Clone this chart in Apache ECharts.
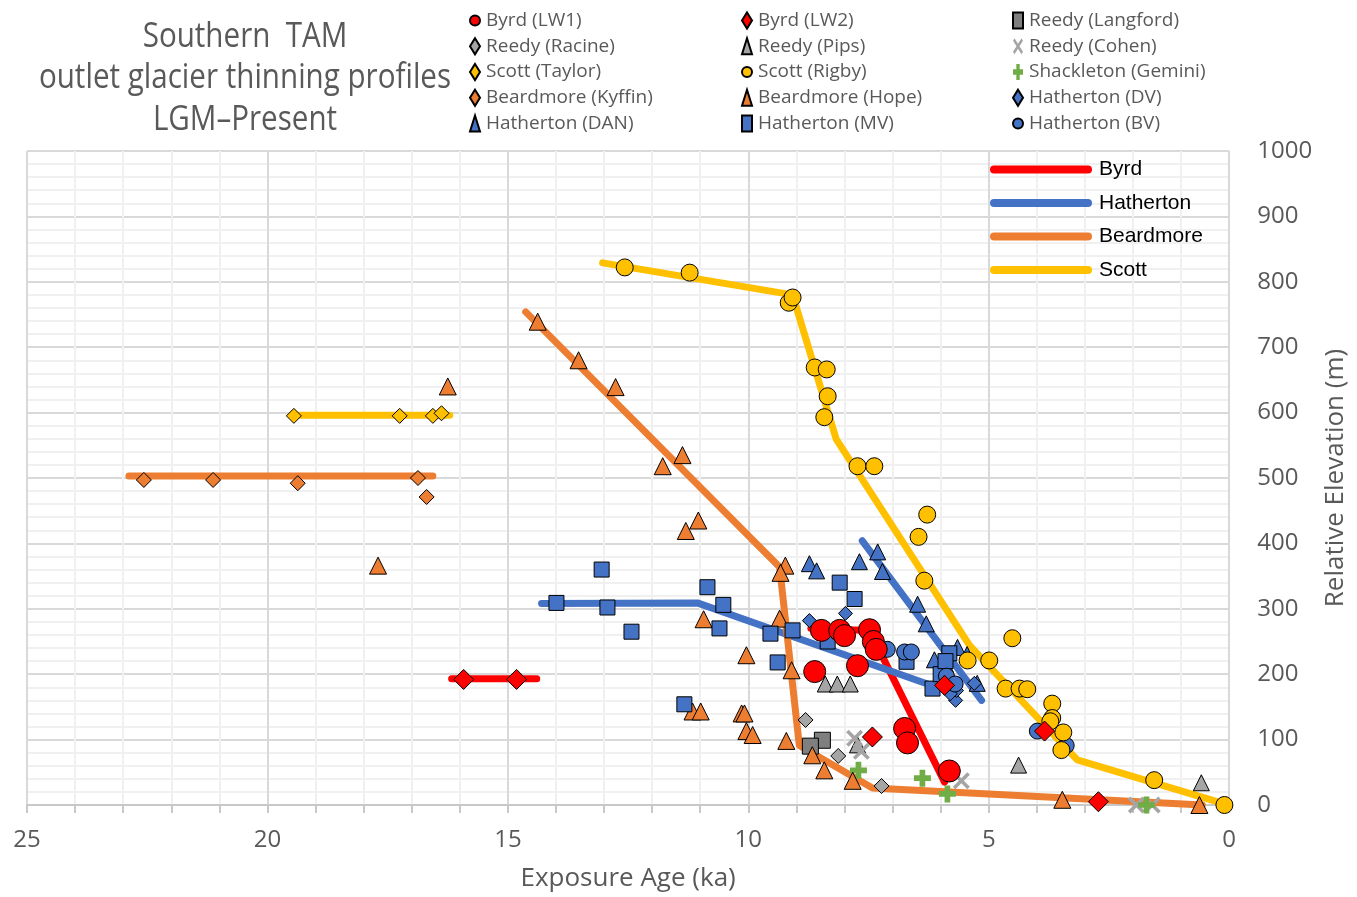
<!DOCTYPE html>
<html>
<head>
<meta charset="utf-8">
<script src="https://cdn.jsdelivr.net/npm/echarts@6/dist/echarts.min.js"></script>
<style>
html,body{margin:0;padding:0;background:#fff;}
#chart{width:1357px;height:897px;}
</style>
</head>
<body>
<div id="chart"></div>
<script>
// ---------- data ----------
const titleLines = ['Southern  TAM', 'outlet glacier thinning profiles', 'LGM\u2013Present'];
const legendCol1 = ['Byrd (LW1)', 'Reedy (Racine)', 'Scott (Taylor)', 'Beardmore (Kyffin)', 'Hatherton (DAN)'];
const legendCol2 = ['Byrd (LW2)', 'Reedy (Pips)', 'Scott (Rigby)', 'Beardmore (Hope)', 'Hatherton (MV)'];
const legendCol3 = ['Reedy (Langford)', 'Reedy (Cohen)', 'Shackleton (Gemini)', 'Hatherton (DV)', 'Hatherton (BV)'];
const lineNames = ['Byrd', 'Hatherton', 'Beardmore', 'Scott'];

// [exposure age (ka), relative elevation (m)]
const byrdLW1 = [[8.48,267],[8.10,267],[8.0,259],[7.48,268],[7.40,250],[7.34,238],[7.73,213],[8.62,204],[6.75,117],[6.69,95],[5.82,52]];
const byrdLW2 = [[15.92,192],[14.82,192],[7.42,104],[5.92,183],[3.84,113],[2.72,5]];
const reedyLangford = [[8.46,99],[8.71,90]];
const reedyRacine = [[8.81,130],[8.13,75],[7.23,29]];
const reedyPips = [[8.4,185],[8.15,185],[7.88,185],[7.73,92],[4.38,61],[0.58,34]];
const reedyCohen = [[7.79,102],[7.65,82],[5.57,37],[1.93,0],[1.6,0]];
const shackletonGemini = [[7.71,53],[6.38,41],[5.86,17],[1.72,0]];
const scottTaylor = [[19.45,595],[17.25,595],[16.56,595],[16.38,599]];
const scottRigby = [[12.57,822],[11.22,814],[9.16,768],[9.08,776],[8.62,669],[8.37,666],[8.35,625],[8.42,593],[7.73,518],[7.38,518],[6.28,444],[6.46,410],[6.34,343],[5.44,221],[4.99,221],[4.51,255],[4.65,178],[4.36,178],[4.2,177],[3.68,155],[3.68,133],[3.72,128],[3.45,111],[3.49,84],[1.56,38],[0.1,0]];
const beardmoreKyffin = [[22.57,497],[21.13,497],[19.37,492],[16.87,500],[16.69,471]];
const beardmoreHope = [[16.25,640],[17.7,366],[14.38,739],[13.53,680],[12.76,639],[11.78,518],[11.37,535],[11.3,419],[11.04,435],[10.93,284],[10.04,229],[9.23,366],[9.33,355],[9.35,285],[9.1,206],[11.16,143],[10.99,143],[10.14,140],[10.08,140],[10.04,113],[9.91,107],[9.21,98],[8.67,76],[8.42,53],[7.83,37],[3.47,8],[0.62,0]];
const hathertonDV = [[8.73,282],[7.98,293],[5.69,160],[5.67,175],[5.3,186],[5.8,170]];
const hathertonDAN = [[8.73,369],[8.58,358],[7.69,372],[7.31,387],[7.21,357],[6.48,307],[6.3,277],[6.13,222],[5.65,241],[5.45,230],[5.24,186],[5.9,215]];
const hathertonMV = [[13.99,309],[13.05,360],[12.93,302],[12.43,265],[11.33,154],[10.85,333],[10.52,306],[10.6,270],[9.54,262],[9.39,218],[9.08,267],[8.1,340],[7.79,315],[8.35,250],[6.71,219],[6.17,178],[5.82,232],[6.0,200],[5.9,220]];
const hathertonBV = [[7.11,238],[6.75,234],[6.61,234],[5.88,197],[5.7,185],[3.99,113],[3.39,91]];

// thinning profile lines (segments)
const byrdLineA = [[16.17,193],[14.4,193]];
const byrdLineB = [[8.7,270],[7.48,267],[5.92,35]];
const hathertonLineA = [[14.3,308],[11.06,309],[6.2,183]];
const hathertonLineB = [[7.63,404],[5.15,160]];
const beardmoreLineA = [[22.88,503],[16.56,503]];
const beardmoreLineB = [[14.63,754],[9.35,364],[8.94,91],[7.42,26],[0.56,0]];
const scottLineA = [[19.43,596],[16.21,596]];
const scottLineB = [[13.03,829],[9.08,780],[8.17,559],[5.40,244],[3.16,69],[0.15,3]];

const xTicks = {min: 0, max: 25, interval: 5};
const yTicks = {min: 0, max: 1000, interval: 100};

// ---------- styles ----------
const RED = '#ff0000', BLUE = '#4472c4', ORANGE = '#ed7d31', YELLOW = '#ffc000';
const DGRAY = '#7f7f7f', LGRAY = '#a5a5a5', GREEN = '#70ad47';
const PLUS = 'path://M-1,-3H1V-1H3V1H1V3H-1V1H-3V-1H-1Z';
const XMARK = 'path://M-3,-2.1L-2.1,-3L0,-0.9L2.1,-3L3,-2.1L0.9,0L3,2.1L2.1,3L0,0.9L-2.1,3L-3,2.1L-0.9,0Z';
const CAPSULE = 'path://M4,0H98A4,4,0,0,1,98,8H4A4,4,0,0,1,4,0Z';

function scatter(name, data, symbol, size, color, border) {
  return {
    type: 'scatter', name: name, data: data, symbol: symbol, symbolSize: size,
    symbolKeepAspect: false,
    itemStyle: {color: color, borderColor: '#000', borderWidth: border ? 1 : 0, opacity: 1},
    emphasis: {disabled: true}, z: 3
  };
}
function line(name, data, color) {
  return {
    type: 'line', name: name, data: data, symbol: 'none', showSymbol: false,
    lineStyle: {color: color, width: 7, cap: 'round', join: 'round'},
    itemStyle: {color: color}, color: color,
    emphasis: {disabled: true}, z: 3, animation: false
  };
}

const FONT = '"Open Sans", sans-serif';
const chart = echarts.init(document.getElementById('chart'));

const topLegend = (data, left) => ({
  data: data, orient: 'vertical', left: left, top: 11, padding: 0,
  itemWidth: 10, itemHeight: 16, itemGap: 6.75, symbolKeepAspect: false,
  textStyle: {color: '#595959', fontSize: 19, lineHeight: 19, fontFamily: FONT, padding: [0,0,0,1]},
  selectedMode: false
});

chart.setOption({
  animation: false,
  backgroundColor: '#fff',
  grid: {left: 27, right: 127, top: 151, bottom: 90, containLabel: false},
  graphic: titleLines.map((t, i) => ({
    type: 'text', x: 245, y: 37 + i * 41.5, scaleX: 0.87,
    style: {text: t, fill: '#595959', fontSize: 34, fontFamily: FONT, align: 'center', verticalAlign: 'middle'}
  })),
  legend: [
    topLegend(legendCol1, 469),
    topLegend(legendCol2, 741),
    topLegend(legendCol3, 1012),
    {
      data: lineNames, orient: 'vertical', left: 990, top: 159, padding: 0,
      icon: CAPSULE, itemWidth: 102, itemHeight: 8, itemGap: 12.5,
      textStyle: {color: '#000', fontSize: 21, lineHeight: 21, fontFamily: '"Liberation Sans", Arial, sans-serif', padding: [0,0,0,2]},
      itemStyle: {borderWidth: 0},
      selectedMode: false
    }
  ],
  xAxis: {
    type: 'value', inverse: true, min: xTicks.min, max: xTicks.max, interval: xTicks.interval,
    name: 'Exposure Age (ka)', nameLocation: 'middle', nameGap: 61,
    nameTextStyle: {color: '#595959', fontSize: 26, fontFamily: FONT},
    axisLine: {show: true, lineStyle: {color: '#c8c8c8', width: 2}},
    axisTick: {show: true, length: 8, lineStyle: {color: '#c8c8c8', width: 2}},
    minorTick: {show: true, splitNumber: 5, length: 8, lineStyle: {color: '#c8c8c8', width: 2}},
    axisLabel: {color: '#595959', fontSize: 24, fontFamily: FONT, margin: 23},
    splitLine: {show: true, lineStyle: {color: '#d9d9d9', width: 2}},
    minorSplitLine: {show: true, lineStyle: {color: '#f0f0f0', width: 2}}
  },
  yAxis: {
    type: 'value', position: 'right', min: yTicks.min, max: yTicks.max, interval: yTicks.interval,
    name: 'Relative Elevation (m)', nameLocation: 'middle', nameRotate: 90, nameGap: 86,
    nameTextStyle: {color: '#595959', fontSize: 26, fontFamily: FONT},
    axisLine: {show: false}, axisTick: {show: false},
    minorTick: {show: false, splitNumber: 5},
    axisLabel: {color: '#595959', fontSize: 24, fontFamily: FONT, margin: 28, formatter: v => String(v)},
    splitLine: {show: true, lineStyle: {color: '#d9d9d9', width: 2}},
    minorSplitLine: {show: true, lineStyle: {color: '#f0f0f0', width: 2}}
  },
  series: [
    scatter('Reedy (Langford)', reedyLangford, 'rect', 16, DGRAY, true),
    scatter('Reedy (Racine)', reedyRacine, 'diamond', 15, LGRAY, true),
    scatter('Reedy (Pips)', reedyPips, 'triangle', 16, LGRAY, true),
    scatter('Reedy (Cohen)', reedyCohen, XMARK, 17, LGRAY, false),
    scatter('Shackleton (Gemini)', shackletonGemini, PLUS, 17, GREEN, false),
    scatter('Scott (Taylor)', scottTaylor, 'diamond', 15, YELLOW, true),
    scatter('Beardmore (Kyffin)', beardmoreKyffin, 'diamond', 15, ORANGE, true),
    scatter('Beardmore (Hope)', beardmoreHope, 'triangle', 17, ORANGE, true),
    scatter('Hatherton (DAN)', hathertonDAN, 'triangle', 16, BLUE, true),
    scatter('Hatherton (MV)', hathertonMV, 'rect', 15, BLUE, true),
    scatter('Hatherton (DV)', hathertonDV, 'diamond', 14, BLUE, true),
    line('Byrd', byrdLineA, RED),
    line('Byrd', byrdLineB, RED),
    line('Hatherton', hathertonLineA, BLUE),
    line('Hatherton', hathertonLineB, BLUE),
    line('Beardmore', beardmoreLineA, ORANGE),
    line('Beardmore', beardmoreLineB, ORANGE),
    line('Scott', scottLineA, YELLOW),
    line('Scott', scottLineB, YELLOW),
    Object.assign(scatter('Hatherton (BV)', hathertonBV, 'circle', 16, BLUE, true), {z: 4}),
    Object.assign(scatter('Scott (Rigby)', scottRigby, 'circle', 17, YELLOW, true), {z: 4}),
    Object.assign(scatter('Byrd (LW1)', byrdLW1, 'circle', 22, RED, true), {z: 4}),
    Object.assign(scatter('Byrd (LW2)', byrdLW2, 'diamond', 20, RED, true), {z: 4})
  ]
});
</script>
</body>
</html>
